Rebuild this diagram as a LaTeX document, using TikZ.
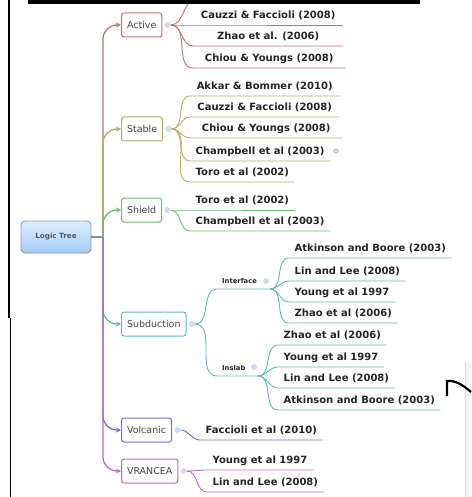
\documentclass[tikz,border=0pt]{standalone}
\usepackage{fontspec}
\setmainfont{DejaVu Sans}
\usetikzlibrary{positioning}

\definecolor{cAct}{RGB}{196,110,110}
\definecolor{cStb}{RGB}{178,176,96}
\definecolor{cShd}{RGB}{104,192,104}
\definecolor{cSub}{RGB}{96,184,184}
\definecolor{cVol}{RGB}{112,112,200}
\definecolor{cVra}{RGB}{190,104,190}
\definecolor{dotblue}{RGB}{204,220,246}
\definecolor{txt}{RGB}{36,36,36}
\definecolor{txtbox}{RGB}{70,70,70}
\definecolor{ltTop}{RGB}{222,238,252}
\definecolor{ltBot}{RGB}{160,204,248}

\begin{document}
\begin{tikzpicture}
[x=1pt,y=-1pt,>=stealth,
root/.style={draw=black!40,rounded corners=4pt,line width=0.9pt,top color=ltTop,bottom color=ltBot,minimum width=70pt,minimum height=32pt,text=black!65,font=\bfseries\fontsize{7.2}{9}\selectfont},
box/.style={draw=#1,anchor=west,rounded corners=2.5pt,line width=1pt,fill=white,minimum height=24pt,inner xsep=5.5pt,text=txtbox,font=\fontsize{9.5}{11}\selectfont},
leaf/.style={anchor=south west,inner xsep=5.5pt,inner ysep=3pt,text height=7.5pt,text depth=3pt,text=txt,font=\bfseries\fontsize{10}{12}\selectfont},
sub/.style={leaf,inner xsep=5pt,text height=5pt,text depth=2.5pt,font=\bfseries\fontsize{6.8}{8}\selectfont},
dot/.style={circle,fill=dotblue,inner sep=0pt,minimum size=6pt},
trunk/.style={draw=#1,line width=1.3pt,rounded corners=14pt,->},
fork/.style={draw=#1,line width=0.9pt},
]
\useasboundingbox (0,0) rectangle (471,497);

%Root
\node (lt) at (56,237)[root] {Logic Tree};
\coordinate (R) at (103,237);

%Main branches
\node (act) at (121,25)[box=cAct] {Active};
\node (stb) at (121,129)[box=cStb] {Stable};
\node (shd) at (121,210)[box=cShd] {Shield};
\node (sub) at (121,324)[box=cSub] {Subduction};
\node (vol) at (121,430)[box=cVol] {Volcanic};
\node (vra) at (121,471)[box=cVra] {VRANCEA};

%Collapse dots
\node (dA) [dot,right=2pt of act] {};
\node (dS) [dot,right=2pt of stb] {};
\node (dH) [dot,right=2pt of shd] {};
\node (dU) [dot,right=2pt of sub] {};
\node (dV) [dot,right=2pt of vol] {};
\node (dR) [dot,right=2pt of vra] {};

%Trunk
\draw[black!45,line width=1.3pt] (lt.east) -- (R);
\draw[trunk=cAct] (R) |- (act.west);
\draw[trunk=cStb] (R) |- (stb.west);
\draw[trunk=cShd] (R) |- (shd.west);
\draw[trunk=cSub] (R) |- (sub.west);
\draw[trunk=cVol] (R) |- (vol.west);
\draw[trunk=cVra] (R) |- (vra.west);

%Active
\coordinate (a0) at (196,0);
\node (a1) at (193,25)[leaf,minimum width=150pt] {Cauzzi \& Faccioli (2008)};
\node (a2) at (193,46)[leaf,minimum width=150pt] {Zhao et al. (2006)};
\node (a3) at (193,68)[leaf,minimum width=152pt] {Chiou \& Youngs (2008)};
\draw[fork=cAct] (dA.east) to[out=0,in=180] (a0);
\draw[fork=cAct] (dA.east) to[out=0,in=180] (a1.south west) -- (a1.south east);
\draw[fork=cAct] (dA.east) to[out=0,in=180] (a2.south west) -- (a2.south east);
\draw[fork=cAct] (dA.east) to[out=0,in=180] (a3.south west) -- (a3.south east);

%Stable
\node (s1) at (190,96)[leaf,minimum width=149pt] {Akkar \& Bommer (2010)};
\node (s2) at (190,117)[leaf,minimum width=149pt] {Cauzzi \& Faccioli (2008)};
\node (s3) at (190,138)[leaf,minimum width=152pt] {Chiou \& Youngs (2008)};
\node (s4) at (190,161)[leaf] {Champbell et al (2003)};
\node (s5) at (190,182)[leaf] {Toro et al (2002)};
\node (mk) at (336,151)[circle,draw=dotblue!70!black,fill=dotblue,inner sep=0pt,minimum size=4.5pt] {};
\draw[fork=cStb] (dS.east) to[out=0,in=180] (s1.south west) -- (s1.south east);
\draw[fork=cStb] (dS.east) to[out=0,in=180] (s2.south west) -- (s2.south east);
\draw[fork=cStb] (dS.east) to[out=0,in=180] (s3.south west) -- (s3.south east);
\draw[fork=cStb] (dS.east) to[out=0,in=180] (s4.south west) -- (s4.south east);
\draw[fork=cStb] (dS.east) to[out=0,in=180] (s5.south west) -- (s5.south east);

%Shield
\node (h1) at (190,210)[leaf] {Toro et al (2002)};
\node (h2) at (190,231)[leaf] {Champbell et al (2003)};
\draw[fork=cShd] (dH.east) to[out=0,in=180] (h1.south west) -- (h1.south east);
\draw[fork=cShd] (dH.east) to[out=0,in=180] (h2.south west) -- (h2.south east);

%Subduction
\node (intf) at (217,289)[sub] {Interface};
\node (dI) at (266,281)[dot] {};
\coordinate (fI) at (270,289);
\node (insl) at (217,376)[sub] {Inslab};
\node (dJ) at (254,367)[dot] {};
\coordinate (fJ) at (258,376);
\draw[fork=cSub] (dU.east) to[out=0,in=180] (intf.south west) -- (fI);
\draw[fork=cSub] (dU.east) to[out=0,in=180] (insl.south west) -- (fJ);

%Interface
\node (i1) at (289,258)[leaf] {Atkinson and Boore (2003)};
\node (i2) at (289,281)[leaf] {Lin and Lee (2008)};
\node (i3) at (289,302)[leaf] {Young et al 1997};
\node (i4) at (289,323)[leaf] {Zhao et al (2006)};
\draw[fork=cSub] (fI) to[out=0,in=180] (i1.south west) -- (i1.south east);
\draw[fork=cSub] (fI) to[out=0,in=180] (i2.south west) -- (i2.south east);
\draw[fork=cSub] (fI) to[out=0,in=180] (i3.south west) -- (i3.south east);
\draw[fork=cSub] (fI) to[out=0,in=180] (i4.south west) -- (i4.south east);

%Inslab
\node (j1) at (278,345)[leaf] {Zhao et al (2006)};
\node (j2) at (278,367)[leaf] {Young et al 1997};
\node (j3) at (278,388)[leaf] {Lin and Lee (2008)};
\node (j4) at (278,410)[leaf] {Atkinson and Boore (2003)};
\draw[fork=cSub] (fJ) to[out=0,in=180] (j1.south west) -- (j1.south east);
\draw[fork=cSub] (fJ) to[out=0,in=180] (j2.south west) -- (j2.south east);
\draw[fork=cSub] (fJ) to[out=0,in=180] (j3.south west) -- (j3.south east);
\draw[fork=cSub] (fJ) to[out=0,in=180] (j4.south west) -- (j4.south east);

%Volcanic
\node (v1) at (200,440)[leaf] {Faccioli et al (2010)};
\draw[fork=cVol] (dV.east) to[out=0,in=180] (v1.south west) -- (v1.south east);

%VRANCEA
\node (w1) at (207,470)[leaf] {Young et al 1997};
\node (w2) at (207,492)[leaf] {Lin and Lee (2008)};
\draw[fork=cVra] (dR.east) to[out=0,in=180] (w1.south west) -- (w1.south east);
\draw[fork=cVra] (dR.east) to[out=0,in=180] (w2.south west) -- (w2.south east);

%Screenshot edges
\fill (28,0) rectangle (420,4);
\fill (7.8,0) rectangle (10.3,318);
\draw[line width=0.9pt] (10.5,318) -- (10.5,497);
\fill[black!4] (465,362) rectangle (471,497);
\draw[black!15] (465,362) -- (465,497);
\draw[line width=2.2pt] (447,396) -- (447,381) .. controls (455,380) and (463,385) .. (471,392);

\end{tikzpicture}
\end{document}
